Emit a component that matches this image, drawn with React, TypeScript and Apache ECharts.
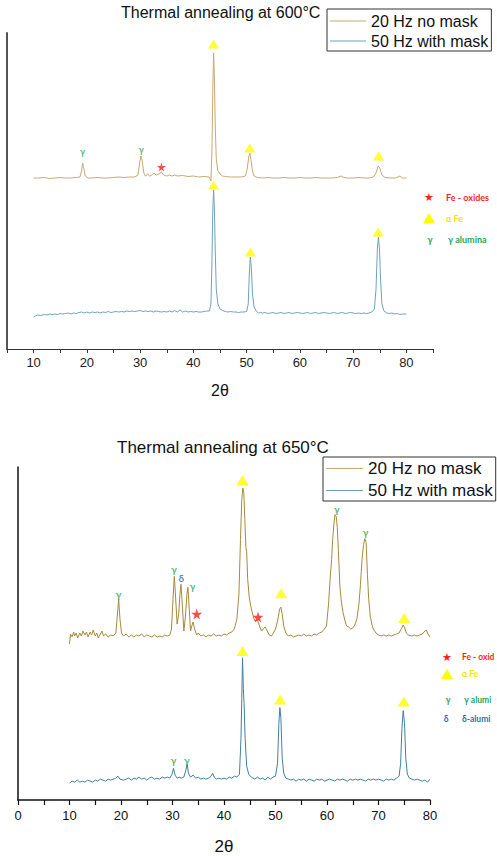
import React, { useEffect, useRef } from "react";
import * as echarts from "echarts";

// ---------- Chart 1: Thermal annealing at 600°C (intensity, arbitrary units, stacked offset) ----------
const top20Hz: [number, number][] = [
  [10, 171], [11, 171], [12, 171.5], [13, 170.5], [14, 171], [15, 171.5], [16, 171], [17, 171], [18, 171.5],
  [18.7, 172], [19.0, 178], [19.2, 186], [19.45, 180], [19.7, 173], [20.2, 171], [21, 171], [22, 171.5],
  [23, 171], [24, 171], [25, 171.5], [26, 172], [27, 171.5], [28, 172], [29, 172], [29.6, 174], [29.9, 186],
  [30.15, 193], [30.4, 188], [30.7, 176], [31.0, 173], [31.4, 175], [31.8, 173], [32.2, 174], [32.6, 176],
  [33.0, 174], [33.5, 175], [34.0, 177], [34.4, 174], [35.0, 173], [35.5, 174], [36.0, 173], [36.5, 174],
  [37, 173], [38, 173.5], [39, 172.5], [40, 173], [41, 172], [42, 172.5], [43, 172], [43.3, 168], [43.5, 200],
  [43.65, 260], [43.8, 296], [43.95, 270], [44.1, 225], [44.3, 190], [44.6, 178], [45, 175], [45.5, 173],
  [46, 172.5], [47, 172], [48, 172], [49, 172], [49.8, 173], [50.1, 180], [50.4, 192], [50.6, 196], [50.8, 190],
  [51.1, 178], [51.4, 173], [52, 171.5], [53, 171], [54, 171.5], [55, 171], [56, 171], [57, 171.5], [58, 171],
  [59, 171], [60, 171.5], [61, 171], [62, 171], [63, 171.5], [64, 171], [65, 171], [66, 171], [67, 171.5],
  [67.7, 173], [68.3, 171.5], [69, 171], [70, 171], [71, 171.5], [72, 171], [73, 171], [73.8, 172], [74.3, 176],
  [74.7, 183], [75.0, 181], [75.4, 174], [76.0, 171.5], [77, 171], [78, 171], [78.8, 173], [79.3, 171], [80, 171],
];

const top50Hz: [number, number][] = [
  [10.0, 32], [10.3, 33], [10.8, 34], [11.3, 33.5], [12.0, 34.5], [12.5, 34], [13.0, 35], [13.5, 34.5],
  [14.0, 35], [14.5, 34.5], [15.0, 35.5], [15.5, 35], [16.0, 35.5], [16.5, 36], [17.0, 35], [17.5, 36],
  [18.0, 35.5], [18.5, 36.5], [19.0, 37], [19.5, 36], [20.0, 37], [20.5, 36], [21.0, 37], [21.5, 36.5],
  [22.0, 37], [22.5, 36], [23.0, 37], [23.5, 36.5], [24.0, 37.5], [24.5, 36.5], [25.0, 37], [25.5, 37.5],
  [26.0, 37], [26.5, 37.5], [27.0, 37], [27.5, 38], [28.0, 37.5], [28.5, 38], [29.0, 37.5], [29.5, 38],
  [30.0, 38.5], [30.5, 37.5], [31.0, 38], [31.5, 37.5], [32.0, 38], [32.5, 37], [33.0, 38], [33.5, 37.5],
  [34.0, 37], [34.5, 37.5], [35.0, 37], [35.5, 38], [36.0, 37], [36.5, 38.5], [37.0, 37], [37.5, 39],
  [38.0, 37], [38.5, 38], [39.0, 37], [39.5, 37.5], [40.0, 37], [40.5, 37.5], [41.0, 37], [41.5, 37],
  [42.0, 37.5], [42.5, 38], [43.0, 38], [43.3, 45], [43.5, 90], [43.65, 140], [43.8, 159], [43.95, 140],
  [44.1, 100], [44.3, 60], [44.6, 45], [45.0, 40], [45.5, 38.5], [46.0, 37.5], [46.5, 37], [47, 37.5],
  [47.5, 37], [48, 37], [48.5, 36.5], [49, 37], [49.5, 37], [50.0, 37.5], [50.3, 45], [50.5, 75], [50.7, 92],
  [50.9, 80], [51.1, 55], [51.4, 42], [51.8, 38], [52.2, 36], [52.6, 36.5], [53, 36], [53.5, 36.5], [54, 35.5],
  [54.5, 36], [55, 36.5], [55.5, 35.5], [56, 36], [56.5, 36.5], [57, 35.5], [57.5, 36], [58, 36.5],
  [58.5, 35.5], [59, 36], [59.5, 36.5], [60, 36], [60.5, 35.5], [61, 36], [61.5, 36.5], [62, 35.5], [62.5, 36],
  [63, 36.5], [63.5, 35.5], [64, 36], [64.5, 36.5], [65, 36], [65.5, 35.5], [66, 36], [66.5, 36.5], [67, 35.5],
  [67.5, 36], [68, 36.5], [68.5, 35.5], [69, 36], [69.5, 36.5], [70, 36], [70.5, 35.5], [71, 36], [71.5, 35.5],
  [72, 36], [72.5, 35.5], [73, 36], [73.5, 37], [74.0, 40], [74.3, 60], [74.55, 100], [74.75, 112],
  [74.95, 100], [75.15, 70], [75.4, 45], [75.8, 38], [76.3, 36], [76.8, 35.5], [77.3, 36], [77.8, 35],
  [78.3, 35.5], [78.8, 34.5], [79.3, 35], [80, 35],
];

const topAlphaFe: [number, number][] = [
  [43.8, 305], [50.6, 201], [74.8, 193], [43.8, 164], [50.7, 97], [74.7, 117],
];
const topGammaAlumina: [number, number][] = [[19.2, 198], [30.2, 200]];
const topFeOxides: [number, number][] = [[34.0, 182]];

// ---------- Chart 2: Thermal annealing at 650°C ----------
const bottom20Hz: [number, number][] = [
  [10.0, 157], [10.2, 167], [10.5, 164], [10.8, 169], [11.0, 165], [11.3, 168], [11.6, 163], [12.0, 168],
  [12.3, 165], [12.6, 170], [13.0, 166], [13.3, 169], [13.6, 164], [14.0, 169], [14.3, 166], [14.6, 171],
  [15.0, 165], [15.3, 168], [15.6, 163], [16.0, 167], [16.3, 170], [16.6, 165], [17.0, 167], [17.5, 164],
  [18.0, 166], [18.5, 165], [19.0, 168], [19.3, 187], [19.55, 202], [19.8, 182], [20.1, 168], [20.5, 165],
  [21.0, 167], [21.5, 164], [22.0, 166], [22.5, 164], [23.0, 166], [23.5, 165], [24.0, 167], [24.5, 164],
  [25.0, 166], [25.5, 165], [26.0, 164], [26.5, 166], [27.0, 164], [27.5, 165], [28.0, 164], [28.5, 166],
  [29.0, 165], [29.5, 166], [29.8, 172], [30.1, 202], [30.35, 225], [30.6, 204], [30.9, 177], [31.2, 187],
  [31.45, 207], [31.65, 217], [31.9, 197], [32.2, 170], [32.5, 184], [32.8, 207], [33.0, 214], [33.25, 192],
  [33.5, 170], [33.8, 176], [34.0, 179], [34.3, 172], [34.7, 166], [35.0, 168], [35.5, 165], [36.0, 166],
  [36.5, 164], [37.0, 166], [37.5, 165], [38.0, 167], [38.5, 165], [39.0, 166], [39.5, 165], [40.0, 167],
  [40.5, 166], [41.0, 168], [41.5, 169], [42.0, 172], [42.5, 182], [42.9, 207], [43.2, 262], [43.45, 302],
  [43.65, 314], [43.85, 309], [44.05, 282], [44.25, 254], [44.4, 250], [44.6, 222], [44.9, 204], [45.2, 195],
  [45.6, 186], [46.0, 180], [46.5, 181], [46.9, 175], [47.3, 170], [47.6, 172], [48.0, 174], [48.4, 170],
  [48.8, 166], [49.2, 165], [49.6, 168], [50.0, 172], [50.4, 180], [50.8, 192], [51.05, 194], [51.3, 187],
  [51.6, 175], [52.0, 168], [52.5, 165], [53.0, 166], [53.5, 164], [54.0, 165], [54.5, 166], [55.0, 165],
  [55.5, 167], [56.0, 165], [56.5, 166], [57.0, 165], [57.5, 167], [58.0, 166], [58.5, 168], [59.0, 169],
  [59.5, 172], [59.9, 175], [60.3, 197], [60.6, 222], [60.9, 242], [61.1, 262], [61.35, 278], [61.55, 287],
  [61.8, 285], [62.0, 274], [62.2, 252], [62.5, 215], [62.8, 199], [63.1, 189], [63.5, 180], [63.8, 175],
  [64.2, 174], [64.6, 172], [65.0, 173], [65.4, 176], [65.8, 182], [66.2, 197], [66.5, 217], [66.8, 242],
  [67.1, 257], [67.35, 263], [67.6, 259], [67.85, 227], [68.1, 202], [68.4, 185], [68.7, 177], [69.0, 172],
  [69.5, 168], [70.0, 166], [70.5, 165], [71.0, 166], [71.5, 165], [72.0, 166], [72.5, 165], [73.0, 166],
  [73.5, 167], [74.0, 168], [74.4, 172], [74.8, 176], [75.1, 173], [75.4, 168], [75.8, 166], [76.5, 165],
  [77.0, 166], [77.5, 165], [78.0, 166], [78.5, 167], [79.0, 170], [79.3, 171], [79.6, 167], [80.0, 164],
];

const bottom50Hz: [number, number][] = [
  [10.0, 17], [10.5, 19], [11.0, 18], [11.5, 20], [12.0, 18], [12.5, 19], [13.0, 18], [13.5, 20], [14.0, 19],
  [14.5, 18], [15.0, 20], [15.5, 19], [16.0, 21], [16.5, 20], [17.0, 19], [17.5, 21], [18.0, 20], [18.5, 21],
  [19.0, 22], [19.4, 24], [19.8, 21], [20.5, 20], [21.0, 21], [21.5, 22], [22.0, 20], [22.5, 22], [23.0, 21],
  [23.5, 23], [24.0, 21], [24.5, 22], [25.0, 20], [25.5, 22], [26.0, 23], [26.5, 21], [27.0, 22], [27.5, 21],
  [28.0, 23], [28.5, 22], [29.0, 23], [29.5, 22], [29.9, 26], [30.2, 32], [30.5, 25], [30.9, 22], [31.3, 23],
  [31.7, 22], [32.2, 23], [32.6, 30], [32.85, 36], [33.1, 27], [33.5, 23], [34.0, 25], [34.5, 22], [35.0, 23],
  [35.5, 21], [36.0, 22], [36.5, 21], [37.0, 22], [37.5, 24], [37.8, 27], [38.1, 23], [38.5, 21], [39.0, 22],
  [39.5, 21], [40.0, 22], [40.5, 21], [41.0, 23], [41.5, 22], [42.0, 24], [42.5, 23], [43.0, 26], [43.3, 62],
  [43.45, 102], [43.6, 143], [43.75, 112], [43.9, 97], [44.1, 62], [44.4, 34], [44.8, 26], [45.3, 23],
  [46.0, 21], [46.5, 23], [47.0, 21], [47.5, 22], [48.0, 20], [48.5, 23], [49.0, 21], [49.5, 23], [50.0, 24],
  [50.4, 37], [50.65, 77], [50.85, 93], [51.05, 82], [51.3, 42], [51.6, 27], [52.0, 22], [52.5, 21],
  [53.0, 20], [53.5, 21], [54.0, 19], [54.5, 21], [55.0, 20], [55.5, 21], [56.0, 19], [56.5, 21], [57.0, 20],
  [57.5, 19], [58.0, 21], [58.5, 20], [59.0, 21], [59.5, 19], [60.0, 20], [60.5, 21], [61.0, 20], [61.5, 19],
  [62.0, 21], [62.5, 20], [63.0, 21], [63.5, 20], [64.0, 19], [64.5, 21], [65.0, 20], [65.5, 21], [66.0, 20],
  [66.5, 21], [67.0, 20], [67.5, 19], [68.0, 21], [68.5, 20], [69.0, 21], [69.5, 20], [70.0, 21], [70.5, 20],
  [71.0, 19], [71.5, 21], [72.0, 20], [72.5, 21], [73.0, 20], [73.5, 22], [74.0, 24], [74.3, 37], [74.55, 72],
  [74.8, 90], [75.05, 77], [75.3, 42], [75.6, 26], [76.0, 22], [76.5, 21], [77.0, 20], [77.5, 21], [78.0, 20],
  [78.5, 19], [79.0, 20], [79.5, 18], [80.0, 21],
];

const bottomAlphaFe: [number, number][] = [
  [43.6, 322], [51.1, 208], [75.0, 183], [43.6, 150], [50.9, 101], [74.9, 99],
];
const bottomGammaAlumina: [number, number][] = [
  [19.5, 207], [30.3, 232], [33.9, 215], [61.9, 293], [67.5, 270], [30.2, 40], [32.8, 40],
];
const bottomDeltaAlumina: [number, number][] = [[31.7, 223]];
const bottomFeOxides: [number, number][] = [[34.7, 187], [46.6, 184]];

const seriesNames = ["20 Hz no mask", "50 Hz with mask"];
const xTicksLabelled = [0, 10, 20, 30, 40, 50, 60, 70, 80];
// phase key texts (the 650°C key is cut by the right edge of the figure, as in the source)
const keyTop = ["Fe - oxides", "α Fe", "γ", "γ alumina"];
const keyBottom = ["Fe - oxid", "α Fe", "γ", "γ alumi", "δ", "δ-alumi"];

const FONT = "'Liberation Sans', Arial, sans-serif";
const ANNOT_FONT = "Lato, 'Open Sans', sans-serif";
const STAR = "path://M50,0 L61,35 L98,35 L68,57 L79,91 L50,70 L21,91 L32,57 L2,35 L39,35 Z";
const RED = "#ff1f1f";
const YELLOW = "#ffff00";
const GREEN = "#1fa65a";
const DELTA_BLUE = "#1f6fc0";

function markerSeries(name: string, data: [number, number][], idx: number, kind: string) {
  const base: any = {
    name,
    type: "scatter",
    xAxisIndex: idx,
    yAxisIndex: idx,
    data,
    silent: true,
    z: 5,
  };
  if (kind === "tri") {
    return { ...base, symbol: "triangle", symbolSize: idx === 0 ? [11, 9] : [12, 10], itemStyle: { color: YELLOW } };
  }
  if (kind === "star") {
    return { ...base, symbol: STAR, symbolSize: idx === 0 ? 9 : 11, itemStyle: { color: RED } };
  }
  const txt = kind === "gamma" ? "γ" : "δ";
  const col = kind === "gamma" ? GREEN : DELTA_BLUE;
  return {
    ...base,
    symbol: "circle",
    symbolSize: 8,
    itemStyle: { color: "rgba(0,0,0,0)" },
    label: {
      show: true,
      position: "inside",
      formatter: txt,
      color: col,
      fontSize: idx === 0 ? 9 : 10,
      fontWeight: "bold",
      fontFamily: ANNOT_FONT,
    },
  };
}

function lineSeries(name: string, data: [number, number][], idx: number, color: string) {
  return {
    name,
    type: "line",
    xAxisIndex: idx,
    yAxisIndex: idx,
    data,
    symbol: "none",
    showSymbol: false,
    lineStyle: { color, width: 1 },
    itemStyle: { color },
    z: 3,
  };
}

function annotLegend(x: number, y: number, gap: number, fs: number, textDx: number, texts: string[]) {
  const withDelta = texts.length > 4;
  const gy = y + 2 * gap + (withDelta ? 9 : 0);
  const els: any[] = [
    { type: "text", x, y, style: { text: "★", fill: RED, font: `${fs + 2}px sans-serif`, align: "center", verticalAlign: "middle" } },
    { type: "text", x: x + textDx, y, style: { text: texts[0], fill: RED, font: `bold ${fs}px ${ANNOT_FONT}`, verticalAlign: "middle" } },
    {
      type: "polygon",
      shape: { points: [[x - 6, y + gap + 5], [x + 6, y + gap + 5], [x, y + gap - 5]] },
      style: { fill: YELLOW },
    },
    { type: "text", x: x + textDx, y: y + gap, style: { text: texts[1], fill: "#f2e600", font: `bold ${fs}px ${ANNOT_FONT}`, verticalAlign: "middle" } },
    { type: "text", x: x + 1, y: gy, style: { text: texts[2], fill: GREEN, font: `bold ${fs}px ${ANNOT_FONT}`, align: "center", verticalAlign: "middle" } },
    { type: "text", x: x + textDx + 2, y: gy, style: { text: texts[3], fill: GREEN, font: `bold ${fs}px ${ANNOT_FONT}`, verticalAlign: "middle" } },
  ];
  if (withDelta) {
    els.push(
      { type: "text", x: x - 1, y: gy + 19, style: { text: texts[4], fill: DELTA_BLUE, font: `bold ${fs}px ${ANNOT_FONT}`, align: "center", verticalAlign: "middle" } },
      { type: "text", x: x + textDx, y: gy + 19, style: { text: texts[5], fill: DELTA_BLUE, font: `bold ${fs}px ${ANNOT_FONT}`, verticalAlign: "middle" } },
    );
  }
  return els;
}

export default function App() {
  const ref = useRef<HTMLDivElement>(null);

  useEffect(() => {
    if (!ref.current) return;
    const chart = echarts.init(ref.current, null, { renderer: "svg" });

    const xLabelFmt = (v: number) => (xTicksLabelled.indexOf(v) >= 0 ? String(v) : "");

    const option: any = {
      animation: false,
      backgroundColor: "#ffffff",
      title: [
        {
          text: "Thermal annealing at 600°C",
          left: 121,
          top: 4,
          padding: 0,
          textStyle: { fontFamily: FONT, fontSize: 16, fontWeight: "normal", color: "#111" },
        },
        {
          text: "Thermal annealing at 650°C",
          left: 117,
          top: 439,
          padding: 0,
          textStyle: { fontFamily: FONT, fontSize: 17, fontWeight: "normal", color: "#111" },
        },
      ],
      legend: [
        {
          data: seriesNames,
          orient: "vertical",
          left: 327,
          top: 9,
          padding: [4, 3, 2, 3],
          itemGap: 4,
          itemWidth: 36,
          itemHeight: 1,
          icon: "rect",
          borderColor: "#333",
          borderWidth: 1,
          selectedMode: false,
          textStyle: { fontFamily: FONT, fontSize: 16, color: "#111", lineHeight: 16 },
        },
        {
          data: seriesNames,
          orient: "vertical",
          left: 323,
          top: 457,
          padding: [3, 3, 2, 3],
          itemGap: 5,
          itemWidth: 37,
          itemHeight: 1,
          icon: "rect",
          borderColor: "#333",
          borderWidth: 1,
          selectedMode: false,
          textStyle: { fontFamily: FONT, fontSize: 17, color: "#111", lineHeight: 17 },
        },
      ],
      grid: [
        { left: 7, top: 33, width: 426, height: 316 },
        { left: 18, top: 467, width: 412, height: 335 },
      ],
      xAxis: [
        {
          gridIndex: 0,
          type: "value",
          min: 5,
          max: 85,
          interval: 5,
          name: "2θ",
          nameLocation: "middle",
          nameGap: 33,
          nameTextStyle: { fontFamily: FONT, fontSize: 16, color: "#111" },
          axisLine: { lineStyle: { color: "#333", width: 1 } },
          axisTick: { length: 4, lineStyle: { color: "#333" } },
          axisLabel: { formatter: xLabelFmt, fontFamily: FONT, fontSize: 13, color: "#222", margin: 7 },
          splitLine: { show: false },
        },
        {
          gridIndex: 1,
          type: "value",
          min: 0,
          max: 80,
          interval: 5,
          name: "2θ",
          nameLocation: "middle",
          nameGap: 38,
          nameTextStyle: { fontFamily: FONT, fontSize: 17, color: "#111" },
          axisLine: { lineStyle: { color: "#111", width: 1.5 } },
          axisTick: { length: 5, lineStyle: { color: "#111", width: 1.2 } },
          axisLabel: { formatter: xLabelFmt, fontFamily: FONT, fontSize: 13, color: "#111", margin: 9 },
          splitLine: { show: false },
        },
      ],
      yAxis: [
        {
          gridIndex: 0,
          type: "value",
          min: 0,
          max: 316,
          axisLine: { show: true, lineStyle: { color: "#555", width: 2 } },
          axisTick: { show: false },
          axisLabel: { show: false },
          splitLine: { show: false },
        },
        {
          gridIndex: 1,
          type: "value",
          min: 0,
          max: 335,
          axisLine: { show: true, lineStyle: { color: "#111", width: 1.5 } },
          axisTick: { show: false },
          axisLabel: { show: false },
          splitLine: { show: false },
        },
      ],
      series: [
        lineSeries(seriesNames[0], top20Hz, 0, "#c4ab72"),
        lineSeries(seriesNames[1], top50Hz, 0, "#6fa3bd"),
        lineSeries(seriesNames[0], bottom20Hz, 1, "#a88a3c"),
        lineSeries(seriesNames[1], bottom50Hz, 1, "#3f80a8"),
        markerSeries("α Fe (600°C)", topAlphaFe, 0, "tri"),
        markerSeries("γ alumina (600°C)", topGammaAlumina, 0, "gamma"),
        markerSeries("Fe - oxides (600°C)", topFeOxides, 0, "star"),
        markerSeries("α Fe (650°C)", bottomAlphaFe, 1, "tri"),
        markerSeries("γ alumina (650°C)", bottomGammaAlumina, 1, "gamma"),
        markerSeries("δ-alumina (650°C)", bottomDeltaAlumina, 1, "delta"),
        markerSeries("Fe - oxides (650°C)", bottomFeOxides, 1, "star"),
      ],
      graphic: [
        ...annotLegend(429, 197, 21, 9, 17, keyTop),
        ...annotLegend(447, 657, 17, 8.5, 15, keyBottom),
      ],
    };

    chart.setOption(option);
    return () => chart.dispose();
  }, []);

  return (
    <div
      ref={ref}
      style={{ position: "absolute", left: 0, top: 0, width: 497, height: 856, background: "#fff" }}
    />
  );
}
